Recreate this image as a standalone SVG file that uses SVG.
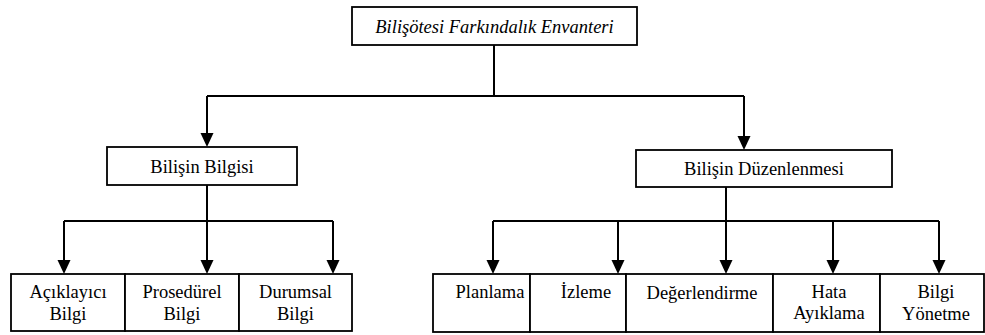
<svg xmlns="http://www.w3.org/2000/svg" xmlns:xlink="http://www.w3.org/1999/xlink" width="985" height="335" viewBox="0 0 985 335" font-family="Liberation Serif, DejaVu Serif, serif">
  <style>
    .box { fill: #ffffff; stroke: #000000; stroke-width: 1.8; }
    .lbl { font-size: 18.5px; fill: #000000; text-anchor: middle; }
    .it { font-style: italic; }
    .wire { fill: none; stroke: #000000; stroke-width: 2; }
  </style>
  <defs>
    <!-- downward arrowhead, tip at the origin -->
    <path id="arrowDown" d="M-6.5,-14 L6.5,-14 L0,0 Z" fill="#000000"/>
    <!-- label area of the lower-left boxes; the second line runs into the bottom edge -->
    <clipPath id="cellClip">
      <rect x="0" y="274" width="360" height="50"/>
    </clipPath>
  </defs>

  <rect width="985" height="335" fill="#ffffff"/>

  <g id="connectors">
    <path class="wire" d="M494,45 V96 M207,96 H744 M207,96 V136 M744,96 V139"/>
    <path class="wire" d="M207,185 V221 M64,221 H333 M64,221 V263 M207,221 V263 M333,221 V263"/>
    <path class="wire" d="M726,187 V221 M493,221 H939 M493,221 V263 M618,221 V263 M726,221 V263 M833,221 V263 M939,221 V263"/>
    <use xlink:href="#arrowDown" x="207" y="147"/>
    <use xlink:href="#arrowDown" x="744" y="150"/>
    <use xlink:href="#arrowDown" x="64" y="274"/>
    <use xlink:href="#arrowDown" x="207" y="274"/>
    <use xlink:href="#arrowDown" x="333" y="274"/>
    <use xlink:href="#arrowDown" x="493" y="274"/>
    <use xlink:href="#arrowDown" x="618" y="274"/>
    <use xlink:href="#arrowDown" x="726" y="274"/>
    <use xlink:href="#arrowDown" x="833" y="274"/>
    <use xlink:href="#arrowDown" x="939" y="274"/>
  </g>

  <g id="inventory">
    <rect class="box" x="352" y="7" width="285" height="38"/>
    <text class="lbl it" font-family="Liberation Serif, serif" x="494.5" y="33">Bilişötesi Farkındalık Envanteri</text>
  </g>

  <g id="knowledge">
    <rect class="box" x="107" y="147" width="190" height="38"/>
    <text class="lbl" font-family="Liberation Serif, serif" x="202" y="173">Bilişin Bilgisi</text>
  </g>

  <g id="regulation">
    <rect class="box" x="636" y="150" width="256" height="37"/>
    <text class="lbl" font-family="Liberation Serif, serif" x="764" y="175">Bilişin Düzenlenmesi</text>
  </g>

  <g id="declarative">
    <rect class="box" x="11" y="274" width="114" height="57"/>
    <text class="lbl" font-family="Liberation Serif, serif" x="68" y="298" clip-path="url(#cellClip)">Açıklayıcı<tspan x="68" y="320">Bilgi</tspan></text>
  </g>

  <g id="procedural">
    <rect class="box" x="125" y="274" width="114" height="57"/>
    <text class="lbl" font-family="Liberation Serif, serif" x="182" y="298" clip-path="url(#cellClip)">Prosedürel<tspan x="182" y="320">Bilgi</tspan></text>
  </g>

  <g id="conditional">
    <rect class="box" x="239" y="274" width="113" height="57"/>
    <text class="lbl" font-family="Liberation Serif, serif" x="295.5" y="298" clip-path="url(#cellClip)">Durumsal<tspan x="295.5" y="320">Bilgi</tspan></text>
  </g>

  <g id="planning">
    <rect class="box" x="433" y="274" width="97" height="58"/>
    <text class="lbl" font-family="Liberation Serif, serif" x="490" y="298">Planlama</text>
  </g>

  <g id="monitoring">
    <rect class="box" x="530" y="274" width="96" height="58"/>
    <text class="lbl" font-family="Liberation Serif, serif" x="586" y="298">İzleme</text>
  </g>

  <g id="evaluation">
    <rect class="box" x="626" y="274" width="147" height="58"/>
    <text class="lbl" font-family="Liberation Serif, serif" x="702" y="299">Değerlendirme</text>
  </g>

  <g id="debugging">
    <rect class="box" x="773" y="274" width="107" height="58"/>
    <text class="lbl" font-family="Liberation Serif, serif" x="829" y="298">Hata<tspan x="829" y="319">Ayıklama</tspan></text>
  </g>

  <g id="info-management">
    <rect class="box" x="880" y="274" width="104" height="58"/>
    <text class="lbl" font-family="Liberation Serif, serif" x="936" y="298">Bilgi<tspan x="936" y="320">Yönetme</tspan></text>
  </g>
</svg>
